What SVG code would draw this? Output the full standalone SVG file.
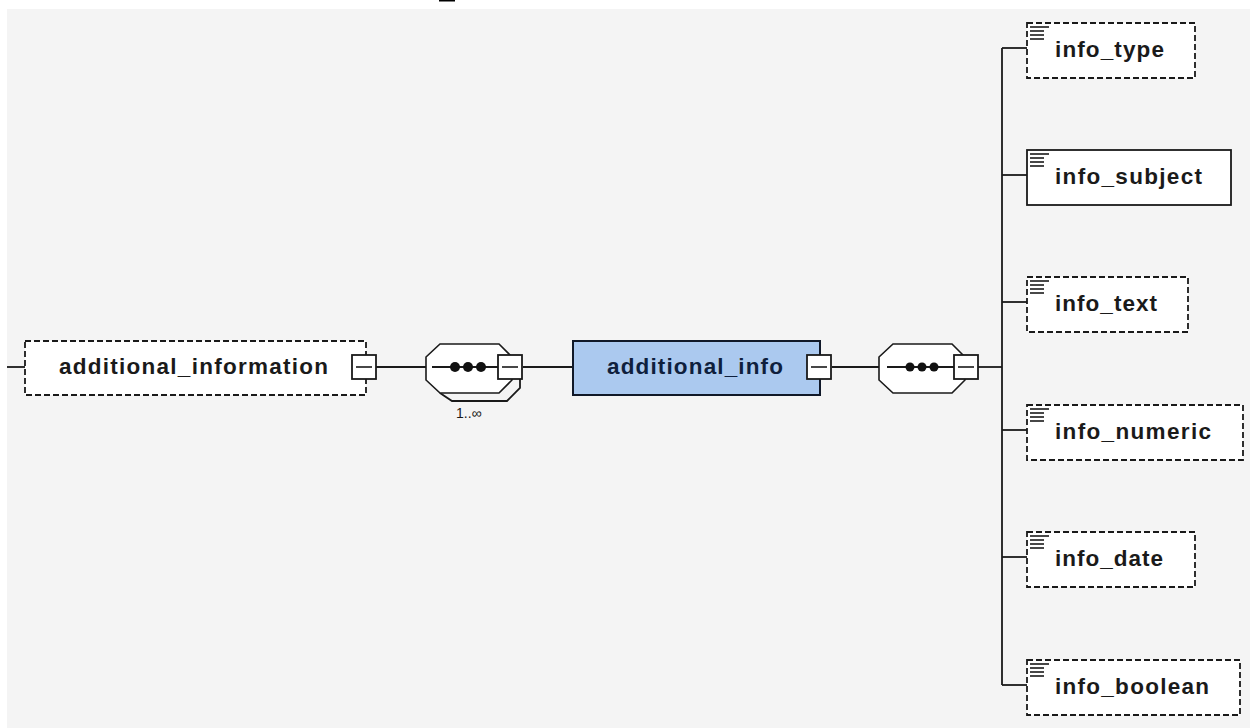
<svg xmlns="http://www.w3.org/2000/svg" width="1250" height="728" viewBox="0 0 1250 728">
<style>
.bg{fill:#f4f4f4}
.el{fill:#ffffff;stroke:#1a1a1a;stroke-width:1.8}
.opt{stroke-dasharray:6 3}
.sel{fill:#abc9ef;stroke:#101828;stroke-width:2}
.lbl{font-family:"Liberation Sans",Arial,sans-serif;font-weight:bold;font-size:22.5px;fill:#1a1a1a}
.lblsel{fill:#0f1f3d}
.conn{stroke:#1a1a1a;stroke-width:1.8;fill:none}
.mb{fill:#ffffff;stroke:#1a1a1a;stroke-width:1.8}
.ml{stroke:#1a1a1a;stroke-width:1.6}
.comp{fill:#ffffff;stroke:#1a1a1a;stroke-width:1.6}
.dot{fill:#111111}
.icon{stroke:#1a1a1a;stroke-width:1.6}
.card{font-family:"Liberation Sans",Arial,sans-serif;font-size:14px;fill:#1a1a1a}
</style>
<defs>
<g id="minus"><rect class="mb" x="0" y="0" width="24" height="24"/><line class="ml" x1="4" y1="12" x2="20" y2="12"/></g>
<g id="icon"><line class="icon" x1="3" y1="4" x2="22" y2="4"/><line class="icon" x1="3" y1="8" x2="17" y2="8"/><line class="icon" x1="3" y1="12" x2="17" y2="12"/><line class="icon" x1="3" y1="16" x2="17" y2="16"/></g>
</defs>
<rect x="0" y="0" width="1250" height="728" fill="#ffffff"/>
<rect class="bg" x="7" y="9" width="1243" height="719"/>
<rect x="439" y="0" width="16" height="1.5" fill="#000000"/>

<g id="connectors">
<line class="conn" x1="7" y1="367" x2="25" y2="367"/>
<line class="conn" x1="376" y1="367" x2="426" y2="367"/>
<line class="conn" x1="523" y1="367" x2="573" y2="367"/>
<line class="conn" x1="832" y1="367" x2="879" y2="367"/>
<line class="conn" x1="978" y1="367" x2="1002" y2="367"/>
<line class="conn" x1="1002" y1="48" x2="1002" y2="685"/>
<line class="conn" x1="1002" y1="48" x2="1027" y2="48"/>
<line class="conn" x1="1002" y1="175" x2="1027" y2="175"/>
<line class="conn" x1="1002" y1="302" x2="1027" y2="302"/>
<line class="conn" x1="1002" y1="430" x2="1027" y2="430"/>
<line class="conn" x1="1002" y1="557" x2="1027" y2="557"/>
<line class="conn" x1="1002" y1="685" x2="1027" y2="685"/>
</g>

<g id="node-additional_information">
<rect class="el opt" x="25" y="341" width="341" height="54"/>
<text class="lbl" x="59" y="374" textLength="269" lengthAdjust="spacing">additional_information</text>
<use href="#minus" x="352" y="355"/>
</g>

<g id="node-sequence1">
<path class="conn" d="M440,393 L452,401 L507,401 L520,388 L520,379"/>
<polygon class="comp" points="426,357 440,344 499,344 512,357 512,380 499,393 440,393 426,380"/>
<line class="conn" x1="432" y1="367" x2="498" y2="367"/>
<circle class="dot" cx="455" cy="367" r="5"/>
<circle class="dot" cx="468" cy="367" r="5"/>
<circle class="dot" cx="481" cy="367" r="5"/>
<use href="#minus" x="498" y="355"/>
<text class="card" x="456" y="418">1..∞</text>
</g>

<g id="node-additional_info">
<rect class="sel" x="573" y="341" width="247" height="54"/>
<text class="lbl lblsel" x="607" y="374" textLength="176" lengthAdjust="spacing">additional_info</text>
<use href="#minus" x="807" y="355"/>
</g>

<g id="node-sequence2">
<polygon class="comp" points="879,357 893,344 952,344 965,357 965,380 952,393 893,393 879,380"/>
<line class="conn" x1="887" y1="367" x2="954" y2="367"/>
<circle class="dot" cx="910" cy="367" r="4.5"/>
<circle class="dot" cx="922" cy="367" r="4.5"/>
<circle class="dot" cx="934" cy="367" r="4.5"/>
<use href="#minus" x="954" y="355"/>
</g>

<g id="node-info_type">
<rect class="el opt" x="1027" y="23" width="168" height="55"/>
<use href="#icon" x="1027" y="23"/>
<text class="lbl" x="1055" y="57" textLength="109" lengthAdjust="spacing">info_type</text>
</g>

<g id="node-info_subject">
<rect class="el" x="1027" y="150" width="204" height="55"/>
<use href="#icon" x="1027" y="150"/>
<text class="lbl" x="1055" y="184" textLength="147" lengthAdjust="spacing">info_subject</text>
</g>

<g id="node-info_text">
<rect class="el opt" x="1027" y="277" width="161" height="55"/>
<use href="#icon" x="1027" y="277"/>
<text class="lbl" x="1055" y="311" textLength="102" lengthAdjust="spacing">info_text</text>
</g>

<g id="node-info_numeric">
<rect class="el opt" x="1027" y="405" width="216" height="55"/>
<use href="#icon" x="1027" y="405"/>
<text class="lbl" x="1055" y="439" textLength="156" lengthAdjust="spacing">info_numeric</text>
</g>

<g id="node-info_date">
<rect class="el opt" x="1027" y="532" width="168" height="55"/>
<use href="#icon" x="1027" y="532"/>
<text class="lbl" x="1055" y="566" textLength="108" lengthAdjust="spacing">info_date</text>
</g>

<g id="node-info_boolean">
<rect class="el opt" x="1027" y="660" width="213" height="55"/>
<use href="#icon" x="1027" y="660"/>
<text class="lbl" x="1055" y="694" textLength="154" lengthAdjust="spacing">info_boolean</text>
</g>
</svg>
